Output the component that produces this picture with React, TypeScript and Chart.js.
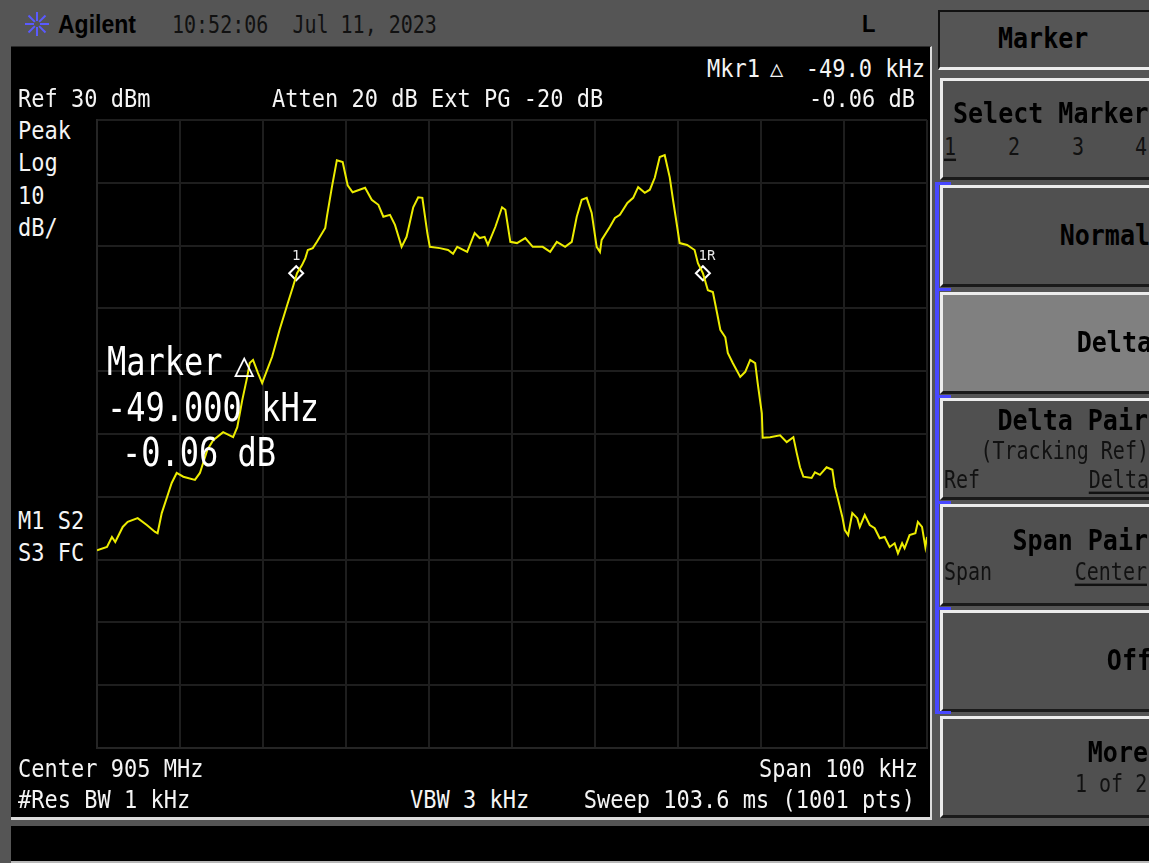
import React, { useEffect, useRef } from "react";
import { Chart, registerables } from "chart.js";

Chart.register(...registerables);

// ---- data ----
const traceFreqKHz = [
  -50.0, -48.8, -48.2, -47.8, -46.9, -46.3, -45.1, -44.0, -43.0, -42.7,
  -42.2, -41.4, -41.0, -40.4, -39.6, -38.2, -37.6, -36.7, -36.0, -34.8,
  -33.6, -33.1, -32.5, -31.9, -31.6, -31.2, -30.6, -30.1, -29.5, -28.9,
  -28.0, -27.0, -26.4, -25.9, -25.3, -24.9, -24.6, -24.0, -23.5, -22.5,
  -22.3, -21.7, -21.1, -20.4, -19.8, -19.2, -17.7, -16.9, -16.1, -15.5,
  -14.7, -14.1, -13.3, -12.7, -11.9, -11.3, -10.8, -10.2, -9.9, -8.7,
  -7.7, -7.1, -6.6, -5.4, -4.5, -3.9, -3.3, -2.9, -2.0, -1.2,
  -0.8, -0.2, 0.6, 1.6, 2.5, 3.7, 4.6, 5.4, 6.4, 7.2,
  7.8, 8.4, 9.0, 9.6, 10.2, 10.6, 10.8, 11.8, 12.4, 13.0,
  13.9, 14.6, 15.2, 16.0, 16.6, 17.2, 17.8, 18.4, 19.0, 19.4,
  19.9, 20.2, 21.1, 22.0, 22.4, 23.0, 23.6, 24.2, 24.7, 25.1,
  25.7, 26.0, 26.6, 27.5, 28.1, 28.7, 29.3, 29.6, 30.1, 30.2,
  31.1, 32.3, 33.1, 33.9, 34.3, 34.7, 35.1, 36.1, 36.5, 37.1,
  37.9, 38.6, 38.9, 39.3, 39.8, 40.1, 40.5, 41.0, 41.6, 41.9,
  42.5, 43.1, 43.7, 44.3, 44.9, 45.5, 46.1, 46.5, 47.0, 47.3,
  47.9, 48.6, 48.9, 49.4, 49.8, 50.0,
];
const traceLevelDbm = [
  -38.5, -38.0, -36.4, -37.2, -34.8, -34.0, -33.4, -34.5, -35.6, -35.8,
  -32.6, -29.4, -27.8, -26.2, -26.8, -27.3, -26.2, -22.5, -21.0, -19.7,
  -20.5, -18.9, -14.6, -10.9, -8.7, -8.2, -10.3, -11.9, -9.8, -7.7,
  -3.4, 0.9, 3.4, 5.6, 6.9, 8.0, 9.3, 9.6, 10.6, 12.8,
  14.6, 19.3, 23.6, 23.3, 19.6, 18.5, 19.2, 17.3, 16.5, 14.6,
  14.9, 13.3, 9.8, 11.4, 16.1, 17.7, 17.6, 12.0, 9.8, 9.6,
  9.3, 8.7, 9.8, 9.0, 12.0, 11.2, 11.4, 10.1, 13.0, 16.1,
  15.7, 10.6, 10.4, 11.2, 9.8, 9.8, 9.0, 10.6, 9.8, 10.6,
  14.6, 17.3, 17.6, 15.2, 9.8, 9.0, 10.9, 13.0, 14.4, 14.9,
  16.8, 17.6, 19.3, 18.4, 18.9, 20.8, 24.1, 24.4, 20.9, 17.3,
  13.0, 10.4, 10.1, 9.3, 7.2, 5.6, 2.9, 2.6, -0.7, -3.4,
  -4.6, -7.1, -8.7, -10.9, -10.1, -8.2, -8.7, -11.9, -16.7, -20.6,
  -20.5, -20.2, -21.3, -20.5, -23.0, -25.3, -26.8, -27.0, -26.1, -26.5,
  -25.3, -25.7, -28.4, -30.5, -33.2, -35.3, -36.1, -32.6, -33.4, -34.8,
  -32.9, -34.5, -35.0, -36.6, -36.4, -38.0, -37.4, -39.0, -37.4, -38.2,
  -36.1, -35.8, -34.0, -34.8, -38.0, -36.4,
];
const markerFreqKHz = [-26.0, 23.0];
const markerLevelDbm = [5.6, 5.6];
const markerLabels = ["1", "1R"];

const spanMinKHz = -50;
const spanMaxKHz = 50;
const refLevelDbm = 30;
const bottomLevelDbm = -70;
const divisionStep = 10;

// ---- layout helpers ----
const W = 1149;
const H = 863;
const MONO = '"DejaVu Sans Mono", monospace';
const SANS = '"Liberation Sans", Arial, sans-serif';

type TP = {
  x: number;
  y: number;
  s?: number;
  k?: number;
  c?: string;
  b?: boolean;
  r?: boolean;
  ff?: string;
  u?: boolean;
  children: React.ReactNode;
};

function T({ x, y, s = 22, k = 1.15, c = "#f4f4f4", b = false, r = false, ff = MONO, u = false, children }: TP) {
  const asc = 0.846;
  const style: React.CSSProperties = {
    position: "absolute",
    top: y - asc * s,
    fontFamily: ff,
    fontSize: s,
    lineHeight: `${s}px`,
    color: c,
    fontWeight: b ? "bold" : "normal",
    whiteSpace: "pre",
    transform: `scaleY(${k})`,
    transformOrigin: `0 ${asc * s}px`,
    textDecoration: u ? "underline" : undefined,
    textUnderlineOffset: u ? 3 : undefined,
  };
  if (r) style.right = W - x;
  else style.left = x;
  return <div style={style}>{children}</div>;
}

function Key({ top, bg = "#505050" }: { top: number; bg?: string }) {
  return (
    <div
      style={{
        position: "absolute",
        left: 940,
        top,
        width: 215,
        height: 102,
        boxSizing: "border-box",
        background: bg,
        borderTop: "3px solid #ececec",
        borderLeft: "3px solid #ececec",
        borderBottom: "3px solid #1a1a1a",
      }}
    />
  );
}

const markerLabelPlugin = {
  id: "markerLabels",
  afterDatasetsDraw(chart: any) {
    const ctx = chart.ctx;
    const meta = chart.getDatasetMeta(1);
    ctx.save();
    ctx.font = '14px "DejaVu Sans Mono", monospace';
    ctx.fillStyle = "#e8e8e8";
    ctx.textAlign = "center";
    ctx.textBaseline = "alphabetic";
    meta.data.forEach((pt: any, i: number) => {
      const lbl = markerLabels[i];
      ctx.fillText(lbl, pt.x + (lbl.length > 1 ? 4 : 0), pt.y - 13);
    });
    ctx.restore();
  },
};

function SpectrumChart() {
  const ref = useRef<HTMLCanvasElement | null>(null);
  useEffect(() => {
    if (!ref.current) return;
    const trace = traceFreqKHz.map((x, i) => ({ x, y: traceLevelDbm[i] }));
    const marks = markerFreqKHz.map((x, i) => ({ x, y: markerLevelDbm[i] }));
    const gridColor = "#1e1e1e";
    const chart = new Chart(ref.current, {
      type: "line",
      data: {
        datasets: [
          {
            data: trace,
            borderColor: "#ecec00",
            borderWidth: 2,
            pointRadius: 0,
            tension: 0,
            fill: false,
          },
          {
            data: marks,
            showLine: false,
            pointStyle: "rectRot",
            pointRadius: 7,
            pointBorderWidth: 2,
            pointBorderColor: "#ffffff",
            pointBackgroundColor: "#000000",
            borderColor: "#ffffff",
            backgroundColor: "#000000",
          },
        ],
      },
      options: {
        animation: false,
        responsive: false,
        maintainAspectRatio: false,
        layout: { padding: 10 },
        plugins: { legend: { display: false }, tooltip: { enabled: false } },
        scales: {
          x: {
            type: "linear",
            min: spanMinKHz,
            max: spanMaxKHz,
            ticks: { display: false, stepSize: divisionStep },
            grid: { color: gridColor, lineWidth: 2, drawTicks: false },
            border: { display: true, color: "#252525", width: 2 },
          },
          y: {
            type: "linear",
            min: bottomLevelDbm,
            max: refLevelDbm,
            ticks: { display: false, stepSize: divisionStep },
            grid: { color: gridColor, lineWidth: 2, drawTicks: false },
            border: { display: true, color: "#252525", width: 2 },
          },
        },
      },
      plugins: [markerLabelPlugin],
    } as any);
    return () => chart.destroy();
  }, []);
  return (
    <canvas
      ref={ref}
      width={850}
      height={648}
      style={{ position: "absolute", left: 87, top: 110, width: 850, height: 648 }}
    />
  );
}

function Star() {
  const rays = [0, 45, 90, 135, 180, 225, 270, 315];
  return (
    <svg width={30} height={30} style={{ position: "absolute", left: 22, top: 9 }}>
      {rays.map((a) => {
        const r = (a * Math.PI) / 180;
        return (
          <line
            key={a}
            x1={15 + Math.cos(r) * 3}
            y1={15 + Math.sin(r) * 3}
            x2={15 + Math.cos(r) * 12}
            y2={15 + Math.sin(r) * 12}
            stroke="#5a5aff"
            strokeWidth={2}
          />
        );
      })}
    </svg>
  );
}

export default function App() {
  const keyTops = [78, 185, 292, 398, 504, 610, 716];
  return (
    <div
      style={{
        position: "absolute",
        left: 0,
        top: 0,
        width: W,
        height: H,
        background: "#555555",
        overflow: "hidden",
      }}
    >
      {/* top bar */}
      <Star />
      <T x={58} y={33} s={23} k={1.15} c="#000" b ff={SANS}>Agilent</T>
      <T x={172} y={33} s={20} k={1.2} c="#111">10:52:06  Jul 11, 2023</T>
      <T x={862} y={33} s={22} k={1.1} c="#000" b ff={SANS}>L</T>

      {/* screen */}
      <div
        style={{
          position: "absolute",
          left: 11,
          top: 46,
          width: 919,
          height: 770,
          background: "#000",
          borderTop: "1px solid #2a2a2a",
          borderRight: "2px solid #dcdcdc",
          borderBottom: "3px solid #dcdcdc",
        }}
      />
      <SpectrumChart />

      <T x={707} y={78}>Mkr1</T>
      <T x={770} y={77} s={22} k={1.0}>△</T>
      <T x={925} y={78} r>-49.0 kHz</T>
      <T x={915} y={108} r>-0.06 dB</T>
      <T x={18} y={108}>Ref 30 dBm</T>
      <T x={272} y={108}>Atten 20 dB Ext PG -20 dB</T>
      <T x={18} y={140}>Peak</T>
      <T x={18} y={172}>Log</T>
      <T x={18} y={205}>10</T>
      <T x={18} y={237}>dB/</T>
      <T x={18} y={530}>M1 S2</T>
      <T x={18} y={562}>S3 FC</T>
      <T x={18} y={778}>Center 905 MHz</T>
      <T x={18} y={809}>#Res BW 1 kHz</T>
      <T x={918} y={778} r>Span 100 kHz</T>
      <T x={410} y={809}>VBW 3 kHz</T>
      <T x={915} y={809} r>Sweep 103.6 ms (1001 pts)</T>

      <T x={107} y={375} s={32} k={1.22} c="#fff">Marker</T>
      <T x={234} y={376} s={34} k={1.0} c="#fff">△</T>
      <T x={107} y={421} s={32} k={1.22} c="#fff">-49.000 kHz</T>
      <T x={122} y={466} s={32} k={1.22} c="#fff">-0.06 dB</T>

      {/* bottom message bar */}
      <div style={{ position: "absolute", left: 11, top: 826, width: 1140, height: 35, background: "#000" }} />
      <div style={{ position: "absolute", left: 11, top: 861, width: 1140, height: 2, background: "#b8b8b8" }} />

      {/* softkey panel */}
      <div
        style={{
          position: "absolute",
          left: 938,
          top: 10,
          width: 215,
          height: 60,
          boxSizing: "border-box",
          background: "#555",
          borderTop: "2px solid #111",
          borderLeft: "2px solid #111",
          borderBottom: "3px solid #ececec",
        }}
      />
      <T x={998} y={48} s={25} k={1.15} c="#000" b>Marker</T>
      {keyTops.map((t, i) => (
        <Key key={t} top={t} bg={i === 2 ? "#808080" : "#505050"} />
      ))}
      <div style={{ position: "absolute", left: 935, top: 182, width: 4, height: 532, background: "#4848ff" }} />
      {[182, 288, 395, 501, 607, 711].map((y) => (
        <div key={y} style={{ position: "absolute", left: 935, top: y, width: 16, height: 3, background: "#4848ff" }} />
      ))}

      <T x={953} y={123} s={25} k={1.15} c="#000" b>Select Marker</T>
      <T x={944} y={155} s={20} k={1.2} c="#111" u>1</T>
      <T x={1008} y={155} s={20} k={1.2} c="#111">2</T>
      <T x={1072} y={155} s={20} k={1.2} c="#111">3</T>
      <T x={1135} y={155} s={20} k={1.2} c="#111">4</T>

      <T x={1150} y={245} s={25} k={1.15} c="#000" b r>Normal</T>
      <T x={1152} y={352} s={25} k={1.15} c="#000" b r>Delta</T>
      <T x={1148} y={430} s={25} k={1.15} c="#000" b r>Delta Pair</T>
      <T x={1149} y={459} s={20} k={1.2} c="#111" r>(Tracking Ref)</T>
      <T x={944} y={488} s={20} k={1.2} c="#111">Ref</T>
      <T x={1149} y={488} s={20} k={1.2} c="#111" r u>Delta</T>
      <T x={1148} y={550} s={25} k={1.15} c="#000" b r>Span Pair</T>
      <T x={944} y={580} s={20} k={1.2} c="#111">Span</T>
      <T x={1147} y={580} s={20} k={1.2} c="#111" r u>Center</T>
      <T x={1152} y={670} s={25} k={1.15} c="#000" b r>Off</T>
      <T x={1148} y={762} s={25} k={1.15} c="#000" b r>More</T>
      <T x={1075} y={792} s={20} k={1.2} c="#111">1 of 2</T>
    </div>
  );
}
